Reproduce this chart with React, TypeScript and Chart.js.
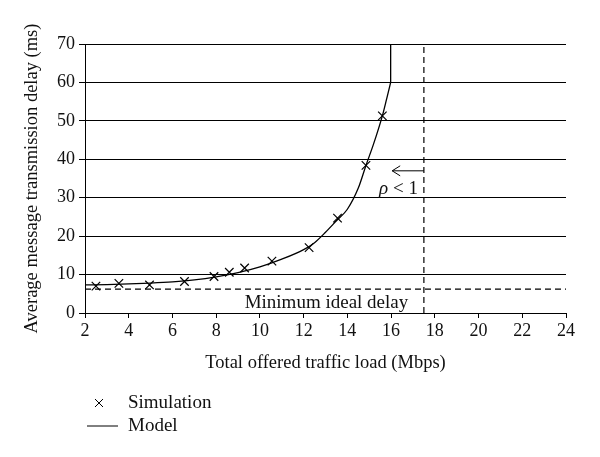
import React, { useEffect, useRef } from "react";
import { Chart, registerables } from "chart.js";

Chart.register(...registerables);

const simX = [2.5, 3.55, 4.95, 6.55, 7.9, 8.6, 9.3, 10.55, 12.25, 13.55, 14.85, 15.6];
const simY = [7.0, 7.7, 7.3, 8.2, 9.5, 10.6, 11.7, 13.5, 17.0, 24.7, 38.4, 51.3];

const modelX = [2, 3, 4, 5, 6, 7, 8, 9, 10, 11, 12, 12.5, 13, 13.5, 14, 14.5, 14.85, 15.2, 15.6, 15.8, 15.98, 15.98];
const modelY = [7.3, 7.4, 7.6, 7.8, 8.1, 8.6, 9.4, 10.5, 12.0, 14.0, 16.5, 18.3, 21.0, 24.0, 27.0, 32.5, 38.4, 44.0, 51.3, 55.8, 60.0, 70.0];

const minIdealDelay = 6.2;
const capacityX = 17.5;
const arrowY = 37;
const arrowTipX = 16.05;

const xTicks = [2, 4, 6, 8, 10, 12, 14, 16, 18, 20, 22, 24];
const yTicks = [0, 10, 20, 30, 40, 50, 60, 70];

const FONT = "'Liberation Serif', 'DejaVu Serif', serif";

const overlayPlugin = {
  id: "overlay",
  afterDatasetsDraw(chart: any) {
    const { ctx, scales } = chart;
    const xs = scales.x;
    const ys = scales.y;
    ctx.save();
    ctx.strokeStyle = "#000";
    ctx.fillStyle = "#111";
    ctx.lineWidth = 1;
    // arrow
    const x0 = xs.getPixelForValue(capacityX);
    const x1 = xs.getPixelForValue(arrowTipX);
    const ay = ys.getPixelForValue(arrowY);
    ctx.beginPath();
    ctx.moveTo(x0, ay);
    ctx.lineTo(x1, ay);
    ctx.moveTo(x1 + 8, ay - 5);
    ctx.lineTo(x1, ay);
    ctx.lineTo(x1 + 8, ay + 5);
    ctx.stroke();
    // rho label
    ctx.textBaseline = "middle";
    ctx.textAlign = "right";
    ctx.font = "19px " + FONT;
    ctx.fillText("< 1", x0 - 6, ay + 18);
    const w = ctx.measureText("< 1 ").width;
    ctx.font = "italic 19px " + FONT;
    ctx.fillText("ρ", x0 - 6 - w, ay + 18);
    // minimum ideal delay label
    ctx.font = "19px " + FONT;
    ctx.textAlign = "center";
    ctx.textBaseline = "alphabetic";
    const my = ys.getPixelForValue(minIdealDelay);
    ctx.fillText("Minimum ideal delay", (chart.chartArea.left + x0) / 2 + 72, my + 19);
    // legend
    const lx = 99;
    const ly1 = 403;
    const ly2 = 426;
    ctx.beginPath();
    ctx.moveTo(lx - 4, ly1 - 4);
    ctx.lineTo(lx + 4, ly1 + 4);
    ctx.moveTo(lx + 4, ly1 - 4);
    ctx.lineTo(lx - 4, ly1 + 4);
    ctx.stroke();
    ctx.beginPath();
    ctx.moveTo(87, ly2);
    ctx.lineTo(118, ly2);
    ctx.stroke();
    ctx.textAlign = "left";
    ctx.textBaseline = "middle";
    ctx.fillText("Simulation", 128, ly1);
    ctx.fillText("Model", 128, ly2);
    ctx.restore();
  },
};

export default function App() {
  const ref = useRef<HTMLCanvasElement>(null);
  useEffect(() => {
    document.body.style.margin = "0";
    const canvas = ref.current!;
    const modelPts = modelX.map((x, i) => ({ x, y: modelY[i] }));
    const n = modelPts.length;
    const chart = new Chart(canvas, {
      type: "scatter",
      data: {
        datasets: [
          {
            label: "Simulation",
            data: simX.map((x, i) => ({ x, y: simY[i] })),
            showLine: false,
            pointStyle: "crossRot",
            pointRadius: 6,
            pointBorderColor: "#000",
            pointBorderWidth: 1.2,
            borderColor: "#000",
          },
          {
            label: "Model",
            data: modelPts.slice(0, n - 1),
            showLine: true,
            pointRadius: 0,
            borderColor: "#000",
            borderWidth: 1.3,
            cubicInterpolationMode: "monotone",
          },
          {
            label: "Model (saturation)",
            data: modelPts.slice(n - 2),
            showLine: true,
            pointRadius: 0,
            borderColor: "#000",
            borderWidth: 1.3,
            tension: 0,
          },
          {
            label: "minDelay",
            data: [
              { x: xTicks[0], y: minIdealDelay },
              { x: xTicks[xTicks.length - 1], y: minIdealDelay },
            ],
            showLine: true,
            pointRadius: 0,
            borderColor: "#000",
            borderWidth: 1.2,
            borderDash: [6, 4],
          },
          {
            label: "capacity",
            data: [
              { x: capacityX, y: yTicks[0] },
              { x: capacityX, y: yTicks[yTicks.length - 1] },
            ],
            showLine: true,
            pointRadius: 0,
            borderColor: "#000",
            borderWidth: 1.2,
            borderDash: [6, 4],
          },
        ],
      },
      options: {
        responsive: false,
        animation: false,
        layout: { padding: { left: 17, top: 44, right: 34, bottom: 79 } },
        plugins: { legend: { display: false }, tooltip: { enabled: false } },
        scales: {
          x: {
            type: "linear",
            min: xTicks[0],
            max: xTicks[xTicks.length - 1],
            afterBuildTicks: (s: any) => {
              s.ticks = xTicks.map((v) => ({ value: v }));
            },
            afterFit: (s: any) => {
              s.height = 65;
            },
            ticks: { color: "#111", font: { family: FONT, size: 18 }, padding: 2 },
            grid: { drawOnChartArea: false, drawTicks: true, tickLength: 5, color: "#000" },
            border: { color: "#000", width: 1 },
            title: {
              display: true,
              text: "Total offered traffic load (Mbps)",
              color: "#111",
              font: { family: FONT, size: 18.5 },
              padding: { top: 4, bottom: 4 },
            },
          },
          y: {
            type: "linear",
            min: yTicks[0],
            max: yTicks[yTicks.length - 1],
            afterBuildTicks: (s: any) => {
              s.ticks = yTicks.map((v) => ({ value: v }));
            },
            afterFit: (s: any) => {
              s.width = 68;
            },
            ticks: { color: "#111", font: { family: FONT, size: 18 }, padding: 4 },
            grid: { drawOnChartArea: true, drawTicks: true, tickLength: 6, color: "#000" },
            border: { color: "#000", width: 1 },
            title: {
              display: true,
              text: "Average message transmission delay (ms)",
              color: "#111",
              font: { family: FONT, size: 18.5 },
              padding: { top: 4, bottom: 4 },
            },
          },
        },
      },
      plugins: [overlayPlugin],
    });
    return () => chart.destroy();
  }, []);
  return <canvas ref={ref} width={600} height={457} style={{ display: "block" }} />;
}
